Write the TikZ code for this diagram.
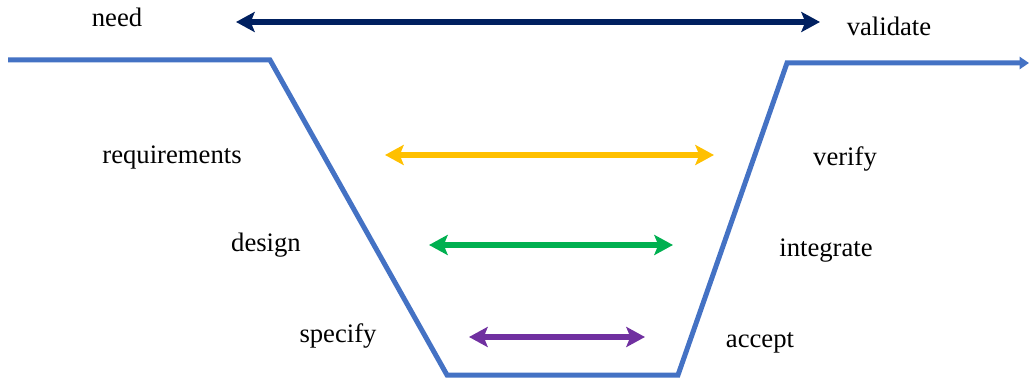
\documentclass[tikz,border=0pt]{standalone}
\usepackage{fontspec}
\setmainfont{Liberation Serif}
\usetikzlibrary{arrows.meta}

\definecolor{vblue}{HTML}{4472C4}
\definecolor{vnavy}{HTML}{002060}
\definecolor{vyellow}{HTML}{FFC000}
\definecolor{vgreen}{HTML}{00B050}
\definecolor{vpurple}{HTML}{7030A0}

\tikzset{
 lbl/.style={font=\fontsize{20}{24}\selectfont, inner sep=0pt, anchor=base},
 pair/.style={line width=4pt, {Stealth[length=14pt,width=15pt,inset=3pt]}-{Stealth[length=14pt,width=15pt,inset=3pt]}},
}

\begin{document}
\begin{tikzpicture}[x=0.75pt, y=-0.75pt]
 \useasboundingbox (0,0) rectangle (1029,381);
 % the trough
 \draw[vblue, line width=3.75pt, -{Triangle[length=7pt,width=9pt]}]
 (8,60) coordinate (L0)
 -- (270,60) coordinate (L1)
 -- (447,375) coordinate (B0)
 -- (678,375) coordinate (B1)
 -- (787,63) coordinate (R1)
 -- (1029,63) coordinate (R0);
%左右のことば
 \node[lbl] (need) at (117,27) {need};
 \node[lbl] (validate) at (889,36) {validate};
 \node[lbl] (req) at (172,164) {requirements};
 \node[lbl] (verify) at (845,166) {verify};
 \node[lbl] (design) at (266,252) {design};
 \node[lbl] (integrate) at (826,257) {integrate};
 \node[lbl] (specify) at (338,343) {specify};
 \node[lbl] (accept) at (760,347) {accept};
%対応する矢印
 \coordinate (n1) at (236,22); \coordinate (n2) at (820,22);
 \coordinate (y1) at (385,155); \coordinate (y2) at (714,155);
 \coordinate (g1) at (429,245); \coordinate (g2) at (673,245);
 \coordinate (p1) at (469,337); \coordinate (p2) at (645,337);
 \draw[pair, vnavy] (n1) -- (n2);
 \draw[pair, vyellow] (y1) -- (y2);
 \draw[pair, vgreen] (g1) -- (g2);
 \draw[pair, vpurple] (p1) -- (p2);
\end{tikzpicture}
\end{document}
